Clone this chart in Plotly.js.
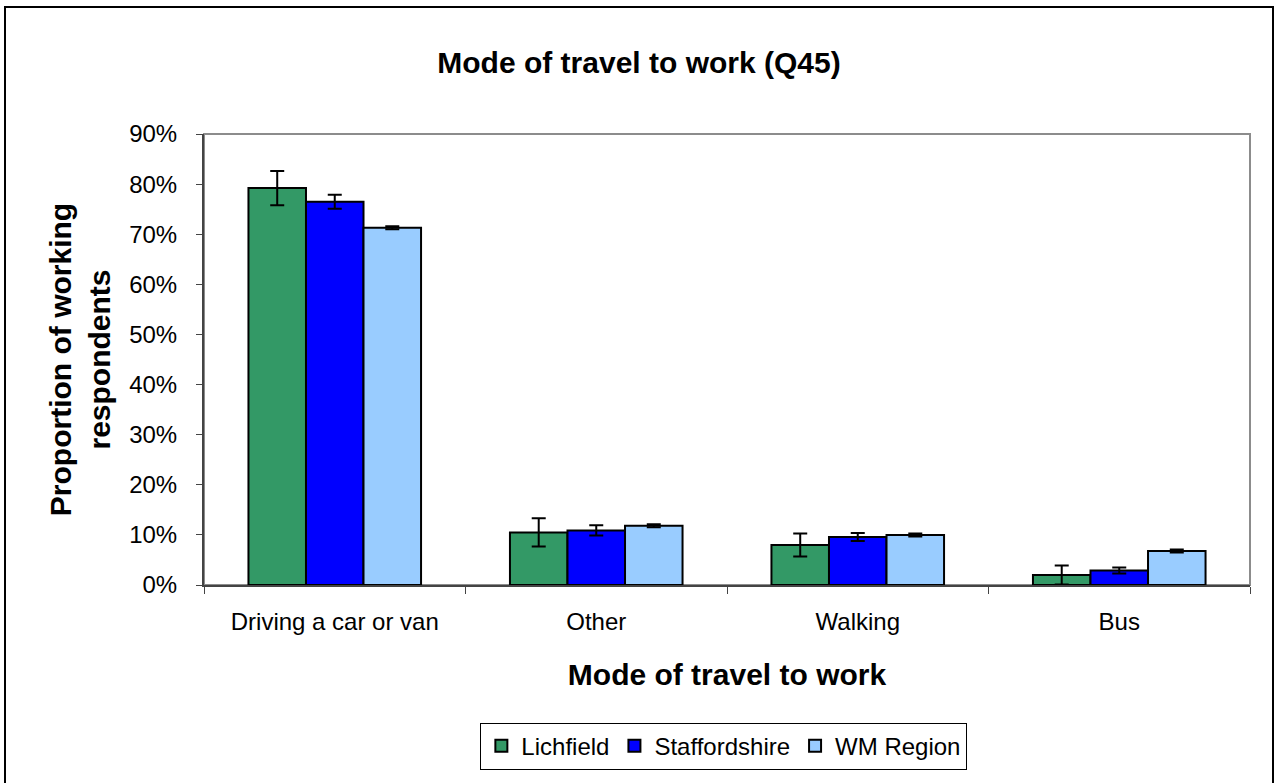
<!DOCTYPE html>
<html>
<head>
<meta charset="utf-8">
<script src="https://cdn.plot.ly/plotly-3.0.1.min.js"></script>
<style>
  html, body { margin: 0; padding: 0; background: #fff; }
  #wrap { position: relative; width: 1278px; height: 783px; overflow: hidden; }
  #chart { width: 1278px; height: 783px; }
  #frame { position: absolute; left: 4px; top: 6px; width: 1270px; height: 785px;
           border: 2px solid #000; pointer-events: none; box-sizing: border-box; }
</style>
</head>
<body>
<div id="wrap">
  <div id="chart"></div>
  <div id="frame"></div>
</div>
<script>
// Mode of travel to work (Q45) - grouped bars with error bars
const modes = ["Driving a car or van", "Other", "Walking", "Bus"];
const seriesNames = ["Lichfield", "Staffordshire", "WM Region"];
const lichfield = [0.792, 0.105, 0.080, 0.020];
const lichfieldErr = [0.034, 0.028, 0.023, 0.019];
const staffordshire = [0.765, 0.109, 0.096, 0.029];
const staffordshireErr = [0.014, 0.010, 0.008, 0.006];
const wmRegion = [0.713, 0.118, 0.100, 0.068];
const wmRegionErr = [0.003, 0.003, 0.003, 0.003];
const barColors = ["#339966", "#0000ff", "#99ccff"];

const font = "Liberation Sans, Arial, sans-serif";

const values = [lichfield, staffordshire, wmRegion];
const errors = [lichfieldErr, staffordshireErr, wmRegionErr];

const data = seriesNames.map((name, i) => ({
  type: 'bar',
  name: name,
  x: modes,
  y: values[i],
  marker: { color: barColors[i], line: { color: '#000', width: 2 } },
  error_y: { type: 'data', array: errors[i], visible: true, color: '#000', thickness: 2, width: 7 },
  hovertemplate: `%{x}<br>${name}: %{y:.1%}<extra></extra>`
}));

const tickFont = { size: 24, family: font, color: '#000' };
const titleFont = { size: 30, family: font, color: '#000' };

const layout = {
  width: 1278, height: 783,
  margin: { l: 204, r: 28, t: 134, b: 198 },
  paper_bgcolor: '#fff', plot_bgcolor: '#fff',
  font: { family: font, color: '#000', size: 24 },
  title: {
    text: '<b>Mode of travel to work (Q45)</b>',
    x: 0.5, xref: 'container', xanchor: 'center',
    y: 1 - 62 / 783, yref: 'container', yanchor: 'middle',
    font: titleFont
  },
  barmode: 'group', bargap: 0.34, bargroupgap: 0,
  showlegend: true,
  legend: {
    orientation: 'h', x: 0.497, xanchor: 'center', y: -0.305, yanchor: 'top',
    bordercolor: '#000', borderwidth: 1, bgcolor: '#fff',
    font: tickFont, traceorder: 'normal',
    itemwidth: 30
  },
  xaxis: {
    type: 'category', fixedrange: true,
    showline: true, linecolor: '#444', linewidth: 2,
    ticks: 'outside', tickson: 'boundaries', ticklen: 7, tickcolor: '#444', tickwidth: 1,
    tickfont: tickFont,
    ticklabelstandoff: 14,
    showgrid: false, zeroline: false,
    title: { text: '<b>Mode of travel to work</b>', font: titleFont, standoff: 30 }
  },
  yaxis: {
    range: [0, 0.9], dtick: 0.1, tickformat: '.0%', fixedrange: true,
    showline: true, linecolor: '#444', linewidth: 2,
    ticks: 'outside', ticklen: 6, tickcolor: '#444', tickwidth: 1,
    tickfont: tickFont,
    ticklabelstandoff: 14,
    showgrid: false, zeroline: false,
    title: { text: '<b>Proportion of working<br>respondents</b>', font: titleFont, standoff: 10 }
  },
  shapes: [
    { type: 'rect', xref: 'paper', yref: 'paper', x0: 0, x1: 1, y0: 0, y1: 1,
      line: { color: '#8c8c8c', width: 2 }, layer: 'below' }
  ]
};

Plotly.newPlot('chart', data, layout, { displayModeBar: false, staticPlot: true });
</script>
</body>
</html>
